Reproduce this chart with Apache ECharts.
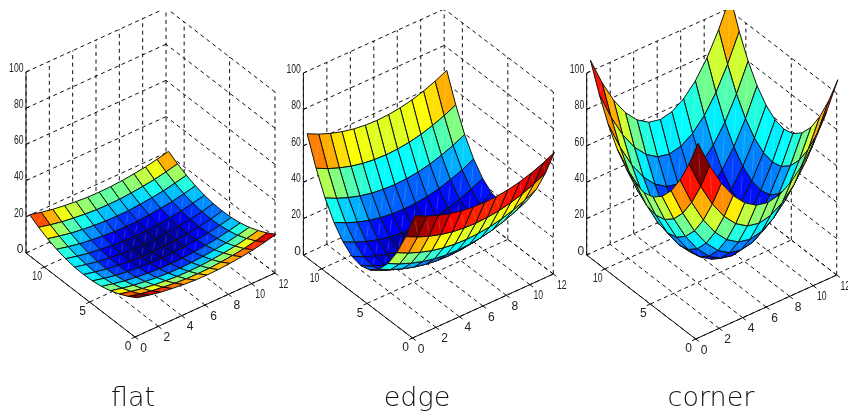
<!DOCTYPE html>
<html><head><meta charset="utf-8"><style>html,body{margin:0;padding:0;background:#fff}#c{width:848px;height:414px}</style></head><body><div id="c"></div>
<script src="https://cdn.jsdelivr.net/npm/echarts@6/dist/echarts.min.js"></script>
<script>
const xTicks=[0,2,4,6,8,10,12], yTicks=[0,5,10], zTicks=[0,20,40,60,80,100];
const titles=['flat','edge','corner'];
const gridX=[0.2,1.19,2.18,3.18,4.17,5.16,6.15,7.14,8.13,9.13,10.12,11.11,12.1];
const gridY=[0,0.99,1.98,2.96,3.95,4.94,5.93,6.91,7.9,8.89,9.88,10.86,11.85];
const flatZ=[
[21.1,19.6,18.3,17.4,16.7,16.2,16.1,16.2,16.7,17.4,18.3,19.6,21.1],
[18,16.5,15.2,14.3,13.6,13.1,13,13.1,13.6,14.3,15.2,16.5,18],
[15.5,14,12.7,11.8,11.1,10.6,10.5,10.6,11.1,11.8,12.7,14,15.5],
[13.5,12,10.7,9.8,9.1,8.6,8.5,8.6,9.1,9.8,10.7,12,13.5],
[12.1,10.6,9.3,8.4,7.7,7.2,7.1,7.2,7.7,8.4,9.3,10.6,12.1],
[11.3,9.8,8.5,7.6,6.9,6.4,6.3,6.4,6.9,7.6,8.5,9.8,11.3],
[11,9.5,8.2,7.3,6.6,6.1,6,6.1,6.6,7.3,8.2,9.5,11],
[11.3,9.8,8.5,7.6,6.9,6.4,6.3,6.4,6.9,7.6,8.5,9.8,11.3],
[12.1,10.6,9.3,8.4,7.7,7.2,7.1,7.2,7.7,8.4,9.3,10.6,12.1],
[13.5,12,10.7,9.8,9.1,8.6,8.5,8.6,9.1,9.8,10.7,12,13.5],
[15.5,14,12.7,11.8,11.1,10.6,10.5,10.6,11.1,11.8,12.7,14,15.5],
[18,16.5,15.2,14.3,13.6,13.1,13,13.1,13.6,14.3,15.2,16.5,18],
[21.1,19.6,18.3,17.4,16.7,16.2,16.1,16.2,16.7,17.4,18.3,19.6,21.1]];
const edgeZ=[
[66.6,63.5,61,59,57.6,56.8,56.5,56.8,57.6,59,61,63.5,66.6],
[51.4,48.3,45.8,43.8,42.4,41.6,41.3,41.6,42.4,43.8,45.8,48.3,51.4],
[38.8,35.7,33.2,31.2,29.8,29,28.7,29,29.8,31.2,33.2,35.7,38.8],
[29.1,26,23.5,21.5,20.1,19.3,19,19.3,20.1,21.5,23.5,26,29.1],
[22.2,19.1,16.6,14.6,13.2,12.4,12.1,12.4,13.2,14.6,16.6,19.1,22.2],
[18,14.9,12.4,10.4,9,8.2,7.9,8.2,9,10.4,12.4,14.9,18],
[16.6,13.5,11,9,7.6,6.8,6.5,6.8,7.6,9,11,13.5,16.6],
[18,14.9,12.4,10.4,9,8.2,7.9,8.2,9,10.4,12.4,14.9,18],
[22.2,19.1,16.6,14.6,13.2,12.4,12.1,12.4,13.2,14.6,16.6,19.1,22.2],
[29.1,26,23.5,21.5,20.1,19.3,19,19.3,20.1,21.5,23.5,26,29.1],
[38.8,35.7,33.2,31.2,29.8,29,28.7,29,29.8,31.2,33.2,35.7,38.8],
[51.4,48.3,45.8,43.8,42.4,41.6,41.3,41.6,42.4,43.8,45.8,48.3,51.4],
[66.6,63.5,61,59,57.6,56.8,56.5,56.8,57.6,59,61,63.5,66.6]];
const cornerZ=[
[107,91.8,79.2,69.5,62.6,58.4,57,58.4,62.6,69.5,79.2,91.8,107],
[91.8,76.6,64,54.3,47.4,43.2,41.8,43.2,47.4,54.3,64,76.6,91.8],
[79.2,64,51.4,41.7,34.8,30.6,29.2,30.6,34.8,41.7,51.4,64,79.2],
[69.5,54.3,41.7,32,25.1,20.9,19.5,20.9,25.1,32,41.7,54.3,69.5],
[62.6,47.4,34.8,25.1,18.2,14,12.6,14,18.2,25.1,34.8,47.4,62.6],
[58.4,43.2,30.6,20.9,14,9.8,8.4,9.8,14,20.9,30.6,43.2,58.4],
[57,41.8,29.2,19.5,12.6,8.4,7,8.4,12.6,19.5,29.2,41.8,57],
[58.4,43.2,30.6,20.9,14,9.8,8.4,9.8,14,20.9,30.6,43.2,58.4],
[62.6,47.4,34.8,25.1,18.2,14,12.6,14,18.2,25.1,34.8,47.4,62.6],
[69.5,54.3,41.7,32,25.1,20.9,19.5,20.9,25.1,32,41.7,54.3,69.5],
[79.2,64,51.4,41.7,34.8,30.6,29.2,30.6,34.8,41.7,51.4,64,79.2],
[91.8,76.6,64,54.3,47.4,43.2,41.8,43.2,47.4,54.3,64,76.6,91.8],
[107,91.8,79.2,69.5,62.6,58.4,57,58.4,62.6,69.5,79.2,91.8,107]];
const surfaces=[flatZ,edgeZ,cornerZ];
const views=[
 {o:[135,337],ex:[140,-64],ey:[-109,-84],ez:181,tx:128},
 {o:[412.5,338],ex:[140.8,-64],ey:[-109.1,-83],ez:182,tx:412},
 {o:[695.7,339],ex:[141,-64],ey:[-109,-84],ez:182,tx:706}];
function proj(v,x,y,z){return [v.o[0]+x/12*v.ex[0]+y/12*v.ey[0], v.o[1]+x/12*v.ex[1]+y/12*v.ey[1]-z/100*v.ez];}
function jet(t){const n=Math.min(63,Math.floor(t*64));const q=(n+1)/64;const c=d=>Math.round(255*Math.max(0,Math.min(1,1.5-Math.abs(4*q-d))));return `rgb(${c(3)},${c(2)},${c(1)})`;}
const INK='#111';
function frame(){const s=[];
 for(const x of xTicks){s.push([x,12,0,x,12,100,1]);s.push([x,0,0,x,12,0,1]);s.push([x,0,0,x,-0.35,0,0]);}
 for(const y of yTicks){s.push([12,y,0,12,y,100,1]);s.push([0,y,0,12,y,0,1]);s.push([0,y,0,-0.3,y,0,0]);}
 for(const z of zTicks){s.push([0,12,z,12,12,z,1]);s.push([12,0,z,12,12,z,1]);s.push([0,12,z,0.3,12,z,0]);}
 s.push([0,0,0,12,0,0,0],[0,0,0,0,12,0,0],[0,12,0,0,12,100,0]);return s;}
function labels(){const l=[];
 for(const x of xTicks)l.push([x,0,0,String(x),'x']);
 for(const y of yTicks)l.push([0,y,0,String(y),'y']);
 for(const z of zTicks)l.push([0,12,z,String(z),'z']);return l;}
const frameSegs=frame(), tickLabels=labels();
const series=[];
views.forEach((v,k)=>{
 series.push({type:'custom',coordinateSystem:'cartesian2d',clip:true,silent:true,animation:false,z:1,data:frameSegs.map((s,i)=>[i]),
  renderItem:(p,api)=>{const s=frameSegs[p.dataIndex];const a=api.coord(proj(v,s[0],s[1],s[2])),b=api.coord(proj(v,s[3],s[4],s[5]));
   return {type:'line',shape:{x1:a[0],y1:a[1],x2:b[0],y2:b[1]},style:{stroke:INK,lineWidth:1,lineDash:s[6]?[4,3.5]:null}};}});
 series.push({type:'custom',coordinateSystem:'cartesian2d',clip:false,silent:true,animation:false,z:2,data:tickLabels.map((s,i)=>[i]),
  renderItem:(p,api)=>{const t=tickLabels[p.dataIndex];const a=api.coord(proj(v,t[0],t[1],t[2]));
   const d={x:[8.5,11.5,'center'],y:[-7,10,'center'],z:[-2.5,-3.5,'right']}[t[4]];
   return {type:'text',x:a[0]+d[0],y:a[1]+d[1],scaleX:t[3].length>1?0.72:1,style:{text:t[3],fill:'#222',font:'12px "Liberation Sans"',textAlign:d[2],textVerticalAlign:'middle'}};}});
 const Z=surfaces[k];let lo=1e9,hi=-1e9;Z.forEach(r=>r.forEach(q=>{lo=Math.min(lo,q);hi=Math.max(hi,q);}));
 const cells=[];for(let i=11;i>=0;i--)for(let j=11;j>=0;j--)cells.push([i,j,Z[j][i]]);
 series.push({type:'custom',coordinateSystem:'cartesian2d',clip:true,silent:true,animation:false,z:3,data:cells,
  renderItem:(p,api)=>{const i=api.value(0),j=api.value(1);
   const pts=[[i,j],[i+1,j],[i+1,j+1],[i,j+1]].map(q=>api.coord(proj(v,gridX[q[0]],gridY[q[1]],Z[q[1]][q[0]])));
   const a=pts[0],c=pts[2];
   return {type:'group',children:[
    {type:'polygon',shape:{points:pts},style:{fill:jet((api.value(2)-lo)/(hi-lo)),stroke:'#111',lineWidth:1}},
    {type:'line',shape:{x1:a[0]+(c[0]-a[0])*.25,y1:a[1]+(c[1]-a[1])*.25,x2:a[0]+(c[0]-a[0])*.75,y2:a[1]+(c[1]-a[1])*.75},style:{stroke:'#fff',opacity:.25,lineWidth:.7}}]};}});
});
const chart=echarts.init(document.getElementById('c'),null,{renderer:'canvas'});
chart.setOption({animation:false,backgroundColor:'#fff',
 title:views.map((v,k)=>({text:titles[k],left:v.tx,top:380,textAlign:'center',textStyle:{fontFamily:'DejaVu Sans Light, DejaVu Sans',fontWeight:'normal',fontSize:27,color:'#111'}})),
 grid:{left:0,right:0,top:10,bottom:0},
 xAxis:{type:'value',min:0,max:848,show:false},
 yAxis:{type:'value',min:10,max:414,inverse:true,show:false},
 series});
</script></body></html>
